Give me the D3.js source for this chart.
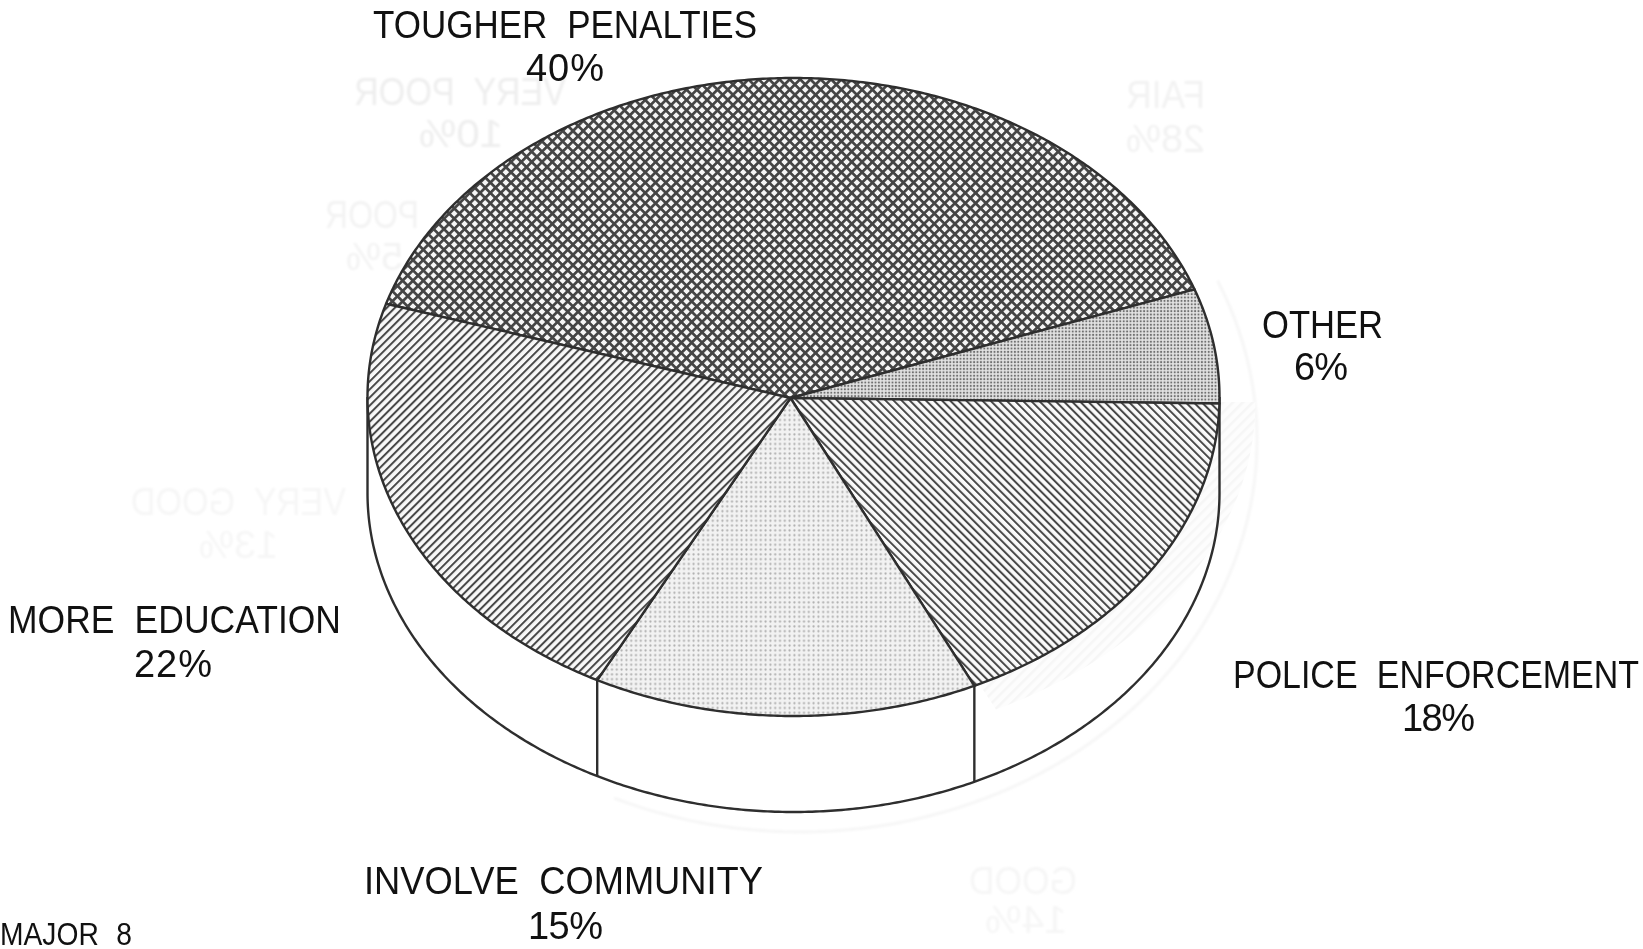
<!DOCTYPE html>
<html><head><meta charset="utf-8">
<script src="https://cdn.jsdelivr.net/npm/d3@7/dist/d3.min.js"></script>
<style>
html,body{margin:0;padding:0;background:#fff;overflow:hidden}
svg{display:block}
text{font-family:"Liberation Sans",Arial,sans-serif;font-size:38px;word-spacing:11px}
</style></head><body>
<svg id="c" width="1643" height="949"></svg>
<script>
// --- data ---
const categories = ["TOUGHER PENALTIES","OTHER","POLICE ENFORCEMENT","INVOLVE COMMUNITY","MORE EDUCATION"];
const values = [40,6,18,15,22];
// share of the circle each wedge really occupies in the drawing (labels are rounded and sum to 101)
const drawnShares = [39.8,5.8,17.7,14.6,22.1];
const footerText = "MAJOR 8";
const ghostNames = ["FAIR","VERY POOR","POOR","VERY GOOD","GOOD"];
const ghostValues = ["28%","10%","5%","13%","14%"];

// --- layout (separate from data) ---
const W=1643,H=949,cx=793.5,cy=397,rx=426,ry=319,depth=96,apexX=790.5,apexY=398;
const patternIds=["cross","fine","back","dots","fwd"];
const labelBox=[
 [[373,384,38],[526,78,81]],
 [[1262,121,338],[1294,54,380]],
 [[1233,406,688],[1402,73,731]],
 [[364,399,894],[528,75,939]],
 [[8,333,633],[134,78,677]]
];
const ghostBox=[
 [[1126,79,108],[1126,79,152]],
 [[354,212,105],[419,84,147]],
 [[325,94,228],[346,57,270]],
 [[131,215,515],[199,79,558]],
 [[969,108,894],[985,82,933]]
];
const ghostFill=["#f2f2f2","#eeeeee","#f3f3f3","#f6f6f6","#f6f6f6"];

const svg=d3.select("#c");
svg.append("rect").attr("width",W).attr("height",H).attr("fill","#fff");
const defs=svg.append("defs");
const INK="#2e2e2e";
defs.append("filter").attr("id","blur").append("feGaussianBlur").attr("stdDeviation",1.1);

function hatch(id,size,angle,w,col,bg){
  const p=defs.append("pattern").attr("id",id).attr("patternUnits","userSpaceOnUse")
    .attr("width",size).attr("height",size).attr("patternTransform",`rotate(${angle})`);
  p.append("rect").attr("width",size).attr("height",size).attr("fill",bg);
  p.append("rect").attr("width",w).attr("height",size).attr("fill",col);
  return p;
}
hatch("fwd",5.7,45,2,"#484848","#f8f8f8");
hatch("back",5.7,-45,2,"#484848","#fafafa");
hatch("ghost",7,45,2.5,"#f6f6f6","#fdfdfd");
const cr=hatch("cross",7.3,45,2.7,"#444","#f6f6f6");
cr.append("rect").attr("width",7.3).attr("height",2.7).attr("fill","#444");
function dots(id,size,r,col,bg){
  const p=defs.append("pattern").attr("id",id).attr("patternUnits","userSpaceOnUse")
    .attr("width",size).attr("height",size);
  p.append("rect").attr("width",size).attr("height",size).attr("fill",bg);
  p.append("circle").attr("cx",size/2).attr("cy",size/2).attr("r",r).attr("fill",col);
}
dots("dots",4.8,1.1,"#adadad","#f2f2f2");
dots("fine",3.4,1.05,"#707070","#e2e2e2");

const rad=d=>d*Math.PI/180;
const sx=d3.scaleLinear().domain([-1,1]).range([cx-rx,cx+rx]);
const sy=d3.scaleLinear().domain([-1,1]).range([cy-ry,cy+ry]);
const px=t=>sx(Math.sin(t)), py=t=>sy(-Math.cos(t));
const line=d3.line();
const arcPts=(a,b)=>{const n=Math.max(2,Math.ceil(Math.abs(b-a)/rad(0.5)));
  return d3.range(n+1).map(i=>{const t=a+(b-a)*i/n;return [px(t),py(t)];});};

// faint show-through from the reverse of the page
const gg=svg.append("g").attr("filter","url(#blur)");
ghostNames.forEach((name,i)=>{
  [name,ghostValues[i]].forEach((s,j)=>{
    const b=ghostBox[i][j];
    gg.append("text").attr("transform",`translate(${b[0]+b[1]},${b[2]}) scale(-1,1)`)
      .attr("fill",ghostFill[i]).attr("textLength",b[1]).attr("lengthAdjust","spacingAndGlyphs").text(s);
  });
});
const ghostArc=d3.range(66,205,2).map(a=>{const t=rad(a);return [800+457*Math.sin(t),440-392*Math.cos(t)];});
gg.append("path").attr("d",line(ghostArc)).attr("fill","none").attr("stroke","#f6f6f6").attr("stroke-width",3);
const ghostWedge=d3.range(0,66,2).map(a=>{const t=rad(90+a);
  return [cx+462*Math.sin(t),402-342*Math.cos(t)];});
svg.append("path").attr("d",line([[cx,402],...ghostWedge])+"Z").attr("fill","url(#ghost)");

// pie
const pie=d3.pie().sort(null).startAngle(rad(-73)).endAngle(rad(287));
const arcs=pie(drawnShares);

// side wall
const wall=arcPts(rad(90),rad(270));
svg.append("path").attr("d",line(wall.map(p=>[p[0],p[1]+depth])))
   .attr("fill","none").attr("stroke",INK).attr("stroke-width",2.4);
svg.selectAll("line.edge").data([rad(90),rad(270)]).join("line").attr("class","edge")
   .attr("x1",px).attr("x2",px).attr("y1",py).attr("y2",t=>py(t)+depth)
   .attr("stroke",INK).attr("stroke-width",2.4);
const fronts=arcs.filter(d=>{const t=d.endAngle;return t>rad(95)&&t<rad(265);}).map(d=>d.endAngle);
svg.selectAll("line.front").data(fronts).join("line").attr("class","front")
   .attr("x1",px).attr("x2",px).attr("y1",py).attr("y2",t=>py(t)+depth)
   .attr("stroke",INK).attr("stroke-width",2.4);

// top face
svg.selectAll("path.slice").data(arcs).join("path").attr("class","slice")
   .attr("d",d=>line([[apexX,apexY],...arcPts(d.startAngle,d.endAngle)])+"Z")
   .attr("fill",(d,i)=>`url(#${patternIds[i]})`)
   .attr("stroke",INK).attr("stroke-width",2.4).attr("stroke-linejoin","round");

// labels
const lg=svg.append("g").attr("fill","#111");
categories.forEach((name,i)=>{
  const [a,b]=labelBox[i];
  lg.append("text").attr("x",a[0]).attr("y",a[2]).attr("textLength",a[1])
    .attr("lengthAdjust","spacingAndGlyphs").text(name);
  lg.append("text").attr("x",b[0]).attr("y",b[2]).attr("textLength",b[1])
    .attr("lengthAdjust","spacing").text(values[i]+"%");
});
lg.append("text").attr("x",0).attr("y",945).attr("textLength",132)
  .attr("lengthAdjust","spacingAndGlyphs").style("font-size","32px").text(footerText);
</script>
</body></html>
